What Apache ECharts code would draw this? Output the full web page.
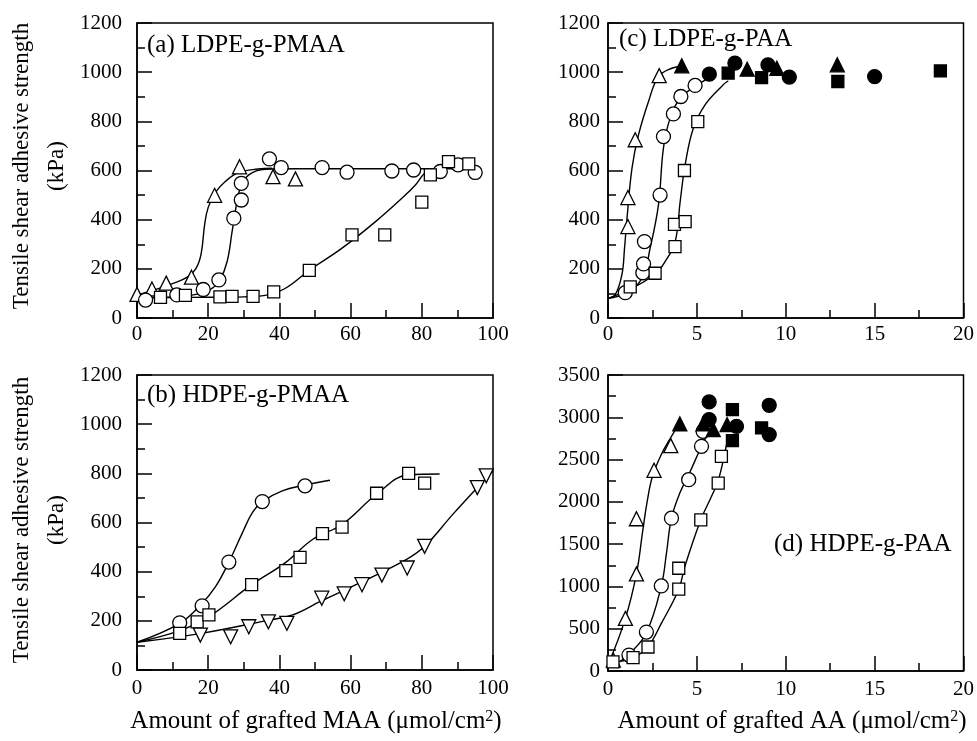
<!DOCTYPE html>
<html>
<head>
<meta charset="utf-8">
<script src="https://cdn.jsdelivr.net/npm/echarts@6/dist/echarts.min.js"></script>
<style>html,body{margin:0;padding:0;background:#fff;}#c{width:977px;height:741px;}</style>
</head>
<body>
<div id="c"></div>
<script>
// ---------- Data ----------
// Panel (a) LDPE-g-PMAA, x: grafted MAA (µmol/cm2), y: kPa
const aTri = [[0,96],[4.2,118],[8.2,142],[15.3,166],[21.8,499],[28.8,615],[38.2,575],[44.5,566]];
const aCirc = [[2.4,73],[11.2,94],[18.6,116],[23,155],[27.2,406],[29.3,480],[29.3,548],[37.2,647],[40.5,612],[52,612],[59,593],[71.6,598],[77.7,602],[85.2,596],[90.2,623],[95,592]];
const aSq = [[6.6,84],[13.6,92],[23.3,86],[26.7,88],[32.6,88],[38.4,106],[48.4,194],[60.4,338],[69.6,338],[80,471],[82.4,582],[87.5,636],[93.2,627]];
const aTriCurve = [[0,93],[5,115],[10,140],[14,165],[16.5,200],[18,260],[19,380],[20,450],[22,510],[24.8,555],[28.6,592],[34,606],[38,609]];
const aCircCurve = [[0,82],[10,86],[18,100],[21.5,125],[23.2,150],[25.3,229],[26.7,350],[27.6,433],[29,528],[31.4,582],[36,605],[45,607],[60,607],[80,607],[96,607]];
const aSqCurve = [[0,82],[15,84],[30,86],[36,92],[41.7,121],[48.4,194],[57.6,284],[67,392],[74.4,487],[78.2,541],[80.5,585],[82.5,605]];

// Panel (b) HDPE-g-PMAA
const bCirc = [[12,192],[18.3,261],[25.8,439],[35.2,685],[47.2,749]];
const bSq = [[12,149],[16.9,196],[20.2,224],[32.2,347],[41.8,404],[45.8,458],[52.1,555],[57.6,581],[67.3,719],[76.3,800],[80.8,760]];
const bTri = [[17.8,142],[26.3,135],[31.4,176],[36.9,196],[42.1,190],[51.9,292],[58.2,310],[63.2,347],[68.8,386],[75.9,415],[80.8,503],[95.6,742],[98.1,790]];
const bCircCurve = [[0,113],[12,190],[18.1,268],[22.1,340],[25.8,439],[29.6,558],[32.4,640],[35.2,685],[40.8,729],[47.2,752],[54.2,772]];
const bSqCurve = [[0,113],[12,160],[20.2,217],[32.2,347],[41.8,438],[49.3,531],[57.6,592],[67.3,715],[76.3,794],[85,797]];
const bTriCurve = [[0,113],[18.1,149],[37.1,203],[43.7,224],[51.9,282],[62.4,353],[75.6,449],[80.8,503],[88.7,633],[95.6,742],[100,810]];

// Panel (c) LDPE-g-PAA, x: grafted AA (µmol/cm2)
const cTriOpen = [[1.12,372],[1.12,490],[1.53,725],[2.88,986]];
const cTriFill = [[4.15,1026],[7.83,1012],[9.5,1016],[12.9,1030]];
const cCircOpen = [[0.97,103],[1.96,184],[2.0,220],[2.05,311],[2.93,500],[3.12,738],[3.68,830],[4.1,901],[4.9,946]];
const cCircFill = [[5.7,992],[7.14,1037],[9.0,1030],[10.2,980],[15.0,982]];
const cSqOpen = [[1.25,127],[2.65,182],[3.77,290],[3.74,381],[4.34,392],[4.3,600],[5.05,799]];
const cSqFill = [[6.76,996],[8.64,978],[12.93,962],[18.7,1005]];
const cTriCurve = [[0,80],[0.4,94],[0.78,175],[0.93,284],[1.07,406],[1.35,610],[1.72,746],[2.28,881],[2.84,982],[3.59,1016],[4.15,1023]];
const cCircCurve = [[0,80],[0.97,100],[1.91,161],[2.37,284],[2.84,461],[3.12,692],[3.5,814],[4.06,895],[4.9,942],[5.65,976]];
const cSqCurve = [[0,80],[1.16,114],[2.65,178],[3.21,229],[3.78,311],[4.06,474],[4.34,623],[4.8,772],[5.46,867],[6.39,942],[6.77,965]];

// Panel (d) HDPE-g-PAA
const dTriOpen = [[0.3,130],[0.98,622],[1.6,1148],[1.6,1800],[2.59,2373],[3.53,2665]];
const dTriFill = [[4.04,2922],[5.35,2922],[5.92,2854],[6.7,2913]];
const dCircOpen = [[1.18,188],[2.16,460],[3.0,1006],[3.57,1807],[4.54,2262],[5.26,2657],[5.35,2834]];
const dCircFill = [[5.69,3182],[5.69,2973],[7.23,2893],[9.07,3142],[9.07,2795]];
const dSqOpen = [[0.28,109],[1.41,157],[2.25,284],[3.98,967],[3.98,1215],[5.22,1787],[6.2,2222],[6.38,2538]];
const dSqFill = [[7.0,3091],[7.0,2724],[8.64,2874]];
const dTriCurve = [[0.1,120],[0.98,622],[1.6,1148],[1.95,1650],[2.2,2000],[2.5,2300],[3.0,2560],[3.53,2760],[4.04,2934]];
const dCircCurve = [[0.65,109],[1.2,200],[2.16,453],[3.0,1006],[3.29,1393],[3.57,1807],[4.04,2104],[4.54,2321],[5.26,2657],[5.54,2775]];
const dSqCurve = [[0.3,100],[1.41,157],[2.25,287],[3.0,563],[3.98,967],[4.32,1234],[5.22,1788],[5.82,2064],[6.2,2250],[6.67,2680]];

// Axis ranges / tick labels
const xMAA = {min:0, max:100, interval:20};
const xAA = {min:0, max:20, interval:5};
const yPMAA = {min:0, max:1200, interval:200};
const yPAA_LD = {min:0, max:1200, interval:200};
const yPAA_HD = {min:0, max:3500, interval:500};

const panelLabels = ['(a) LDPE-g-PMAA','(b) HDPE-g-PMAA','(c) LDPE-g-PAA','(d) HDPE-g-PAA'];
const yTitle = 'Tensile shear adhesive strength\n(kPa)';
const xTitleMAA = 'Amount of grafted MAA (\u03bcmol/cm{s|2})';
const xTitleAA = 'Amount of grafted AA (\u03bcmol/cm{s|2})';

// ---------- Chart ----------
const FONT = '"Liberation Serif", "Times New Roman", serif';
const chart = echarts.init(document.getElementById('c'), null, {renderer:'canvas'});

const grids = [
  {left:137, top:23, width:356, height:295},
  {left:137, top:375, width:356, height:295},
  {left:608, top:23, width:356, height:295},
  {left:608, top:375, width:356, height:296}
].map(g => Object.assign(g, {show:true, borderColor:'#000', borderWidth:1.5, backgroundColor:'transparent', containLabel:false}));

function axis(i, r, margin) {
  return {
    gridIndex:i, type:'value', min:r.min, max:r.max, interval:r.interval,
    axisLine:{show:true, onZero:false, lineStyle:{color:'#000', width:1.5}},
    axisTick:{show:true, inside:true, length:15, lineStyle:{color:'#000', width:1.5}},
    minorTick:{show:true, splitNumber:2, length:8, lineStyle:{color:'#000', width:1.5}},
    splitLine:{show:false}, minorSplitLine:{show:false},
    axisLabel:{color:'#000', fontFamily:FONT, fontSize:21, margin:margin, showMinLabel:true, showMaxLabel:true,
      formatter: v => String(v)}
  };
}
const xAxes = [axis(0,xMAA,6), axis(1,xMAA,8), axis(2,xAA,6), axis(3,xAA,8)];
const yAxes = [axis(0,yPMAA,15), axis(1,yPMAA,15), axis(2,yPAA_LD,8), axis(3,yPAA_HD,8)];

function curve(i, data) {
  return {type:'line', xAxisIndex:i, yAxisIndex:i, data:data, smooth:0.4, showSymbol:false, symbol:'none',
    lineStyle:{color:'#000', width:1.4}, z:2, silent:true, animation:false};
}
function pts(i, data, symbol, filled, size, rot) {
  return {type:'scatter', xAxisIndex:i, yAxisIndex:i, data:data, symbol:symbol, symbolSize:size, symbolRotate:rot||0,
    itemStyle:{color: filled ? '#000' : '#fff', borderColor:'#000', borderWidth:1.3, opacity:1},
    z:3, clip:false, silent:true, animation:false};
}
const TRI = 'triangle', CIR = 'circle', SQ = 'rect';
const series = [
  curve(0,aTriCurve), curve(0,aCircCurve), curve(0,aSqCurve),
  pts(0,aTri,TRI,false,14), pts(0,aCirc,CIR,false,14), pts(0,aSq,SQ,false,12),
  curve(1,bCircCurve), curve(1,bSqCurve), curve(1,bTriCurve),
  pts(1,bCirc,CIR,false,14), pts(1,bSq,SQ,false,12), pts(1,bTri,TRI,false,14,180),
  curve(2,cTriCurve), curve(2,cCircCurve), curve(2,cSqCurve),
  pts(2,cTriOpen,TRI,false,14), pts(2,cCircOpen,CIR,false,14), pts(2,cSqOpen,SQ,false,12),
  pts(2,cTriFill,TRI,true,14), pts(2,cCircFill,CIR,true,14), pts(2,cSqFill,SQ,true,12),
  curve(3,dTriCurve), curve(3,dCircCurve), curve(3,dSqCurve),
  pts(3,dTriOpen,TRI,false,14), pts(3,dCircOpen,CIR,false,14), pts(3,dSqOpen,SQ,false,12),
  pts(3,dTriFill,TRI,true,14), pts(3,dCircFill,CIR,true,14), pts(3,dSqFill,SQ,true,12)
];

const labelFont = '25px ' + FONT;
const titleFont = '23px ' + FONT;
const xTitleFont = '25px ' + FONT;
const graphic = [
  {type:'text', left:147, top:33, style:{text:panelLabels[0], font:labelFont, fill:'#000'}},
  {type:'text', left:147, top:383, style:{text:panelLabels[1], font:labelFont, fill:'#000'}},
  {type:'text', left:619, top:27, style:{text:panelLabels[2], font:labelFont, fill:'#000'}},
  {type:'text', left:774, top:532, style:{text:panelLabels[3], font:labelFont, fill:'#000'}},
  {type:'text', x:39, y:166, rotation:Math.PI/2, style:{text:yTitle, font:titleFont, fill:'#000', align:'center', verticalAlign:'middle', lineHeight:35}},
  {type:'text', x:39, y:520, rotation:Math.PI/2, style:{text:yTitle, font:titleFont, fill:'#000', align:'center', verticalAlign:'middle', lineHeight:35}},
  {type:'text', x:316, y:721, style:{text:xTitleMAA, font:xTitleFont, fill:'#000', align:'center', verticalAlign:'middle',
    rich:{s:{fontFamily:FONT, fontSize:16, verticalAlign:'top', fill:'#000'}}}},
  {type:'text', x:792, y:721, style:{text:xTitleAA, font:xTitleFont, fill:'#000', align:'center', verticalAlign:'middle',
    rich:{s:{fontFamily:FONT, fontSize:16, verticalAlign:'top', fill:'#000'}}}}
];

chart.setOption({
  animation:false,
  backgroundColor:'#fff',
  grid:grids, xAxis:xAxes, yAxis:yAxes, series:series, graphic:graphic
});
</script>
</body>
</html>
